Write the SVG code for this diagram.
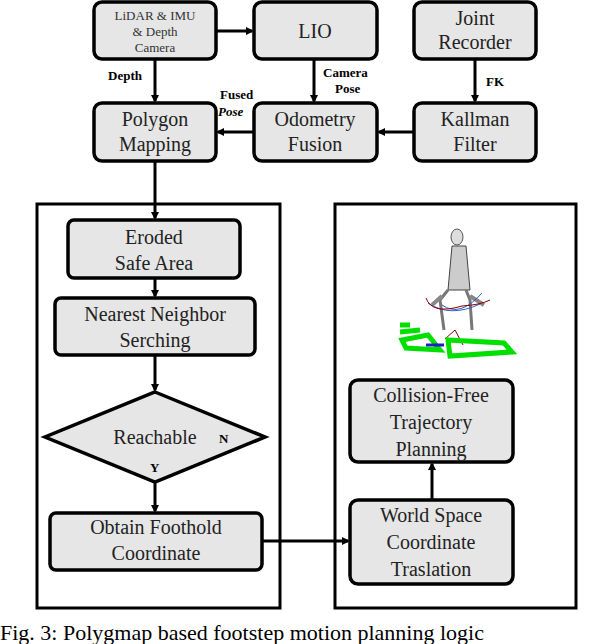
<svg xmlns="http://www.w3.org/2000/svg" width="612" height="644" viewBox="0 0 612 644">
<style>
text{font-family:"Liberation Serif","DejaVu Serif","Times New Roman",serif}
.b{fill:#e6e6e6;stroke:#000;stroke-width:3.5}
.t{font-size:20px;text-anchor:middle;fill:#222}
.s{font-size:13px;text-anchor:middle;fill:#333}
.l{font-size:13px;font-weight:bold;fill:#000}
.c line{stroke:#000;stroke-width:3;fill:none}
.f{fill:none;stroke:#000;stroke-width:3}
</style>
<defs><marker id="a" markerWidth="8" markerHeight="8" refX="6" refY="4" orient="auto" markerUnits="userSpaceOnUse" viewBox="0 0 8 8"><path d="M0,0 L8,4 L0,8 z" fill="#000"/></marker></defs>
<rect class="f" x="37" y="204" width="243" height="404"/>
<rect class="f" x="335" y="204" width="241" height="404"/>
<g id="lidar"><rect class="b" x="94" y="2" width="122" height="57" rx="8"/><text class="s" x="155" y="20">LiDAR &amp; IMU</text><text class="s" x="155" y="36">&amp; Depth</text><text class="s" x="155" y="52">Camera</text></g>
<g id="lio"><rect class="b" x="254" y="2" width="123" height="57" rx="8"/><text class="t" x="315" y="38">LIO</text></g>
<g id="joint"><rect class="b" x="414" y="2" width="122" height="57" rx="8"/><text class="t" x="475" y="25">Joint</text><text class="t" x="475" y="49">Recorder</text></g>
<g id="polygon"><rect class="b" x="94" y="103" width="122" height="58" rx="8"/><text class="t" x="155" y="126">Polygon</text><text class="t" x="155" y="151">Mapping</text></g>
<g id="odometry"><rect class="b" x="254" y="103" width="123" height="58" rx="8"/><text class="t" x="315" y="126">Odometry</text><text class="t" x="315" y="151">Fusion</text></g>
<g id="kallman"><rect class="b" x="414" y="103" width="122" height="58" rx="8"/><text class="t" x="475" y="126">Kallman</text><text class="t" x="475" y="151">Filter</text></g>
<g id="eroded"><rect class="b" x="68" y="220" width="172" height="58" rx="6"/><text class="t" x="154" y="244">Eroded</text><text class="t" x="154" y="270">Safe Area</text></g>
<g id="nearest"><rect class="b" x="55" y="298" width="200" height="57" rx="6"/><text class="t" x="155" y="321">Nearest Neighbor</text><text class="t" x="155" y="347">Serching</text></g>
<g id="reach"><polygon class="b" points="155,392 265,437 155,482 45,437"/><text class="t" x="155" y="444">Reachable</text><text class="l" x="219" y="443" font-size="16">N</text><text class="l" x="150" y="472" font-size="16">Y</text></g>
<g id="obtain"><rect class="b" x="50" y="513" width="212" height="57" rx="6"/><text class="t" x="156" y="534">Obtain  Foothold</text><text class="t" x="156" y="560">Coordinate</text></g>
<g id="collision"><rect class="b" x="350" y="380" width="163" height="82" rx="8"/><text class="t" x="431" y="402">Collision-Free</text><text class="t" x="431" y="429">Trajectory</text><text class="t" x="431" y="456">Planning</text></g>
<g id="world"><rect class="b" x="350" y="500" width="163" height="84" rx="8"/><text class="t" x="431" y="522">World Space</text><text class="t" x="431" y="549">Coordinate</text><text class="t" x="431" y="576">Traslation</text></g>
<g id="robot">
<ellipse cx="457" cy="237" rx="6" ry="8" fill="#ddd" stroke="#555"/>
<path d="M452,246 L466,246 L470,290 L448,290 Z" fill="#ccc" stroke="#444"/>
<path d="M448,290 L440,300 L444,330 M466,290 L470,300 L472,330" stroke="#777" stroke-width="3" fill="none"/>
<path d="M442,296 L432,305 M470,296 L484,305" stroke="#888" stroke-width="4"/>
<path d="M428,303 Q450,318 480,304 M442,305 Q460,318 482,293" stroke="#3060c0" stroke-width="1" fill="none"/>
<path d="M426,298 Q432,315 462,306 Q480,305 490,300 M445,339 L455,330 L463,345" stroke="#800" stroke-width="1" fill="none"/>
<g stroke="#00e000" stroke-width="5" fill="none"><path d="M400,325 L410,325 M400,332 L420,330 M402,340 L428,335 L440,350 L406,348 Z M448,340 L504,343 L512,352 L450,356 Z"/></g>
<path d="M426,345 L444,345" stroke="#2020c0" stroke-width="3"/>
</g>
<g class="c">
<line x1="216" y1="31" x2="252" y2="31" marker-end="url(#a)"/>
<line x1="155" y1="59" x2="155" y2="101" marker-end="url(#a)"/>
<line x1="314" y1="59" x2="314" y2="101" marker-end="url(#a)"/>
<line x1="475" y1="59" x2="475" y2="101" marker-end="url(#a)"/>
<line x1="414" y1="132" x2="379" y2="132" marker-end="url(#a)"/>
<line x1="254" y1="132" x2="218" y2="132" marker-end="url(#a)"/>
<line x1="155" y1="161" x2="155" y2="218" marker-end="url(#a)"/>
<line x1="155" y1="278" x2="155" y2="296" marker-end="url(#a)"/>
<line x1="155" y1="355" x2="155" y2="390" marker-end="url(#a)"/>
<line x1="155" y1="482" x2="155" y2="511" marker-end="url(#a)"/>
<line x1="262" y1="541" x2="348" y2="541" marker-end="url(#a)"/>
<line x1="432" y1="500" x2="432" y2="464" marker-end="url(#a)"/>
</g>
<text class="l" x="108" y="80">Depth</text>
<text class="l" x="323" y="77">Camera</text><text class="l" x="335" y="93">Pose</text>
<text class="l" x="486" y="86">FK</text>
<text class="l" x="220" y="99">Fused</text><text class="l" x="218" y="116" font-weight="normal" font-style="italic">Pose</text>
<text x="0" y="640" font-size="22" fill="#000">Fig. 3: Polygmap based footstep motion planning logic</text>
</svg>
